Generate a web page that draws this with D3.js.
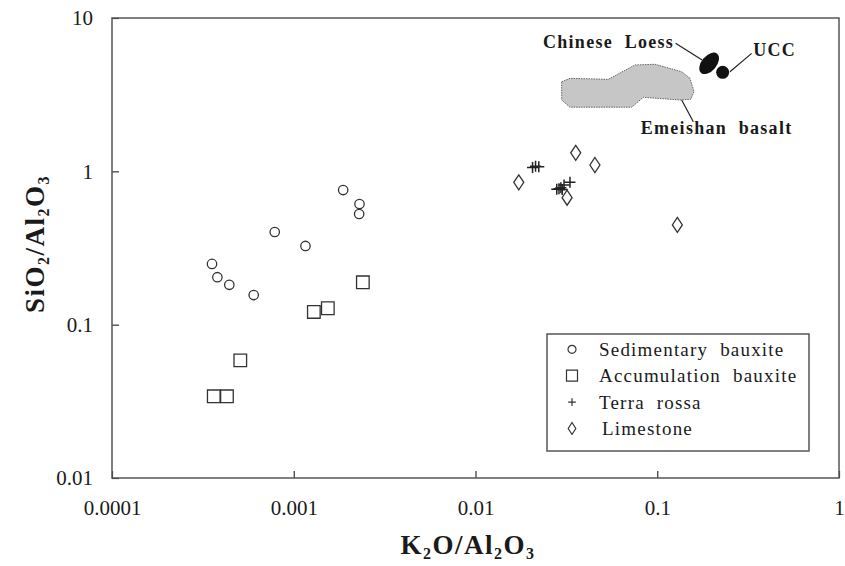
<!DOCTYPE html>
<html>
<head>
<meta charset="utf-8">
<script src="https://cdn.jsdelivr.net/npm/d3@7"></script>
<style>
  body { margin: 0; background: #fff; }
</style>
</head>
<body>
<script>
// values (x = K2O/Al2O3, y = SiO2/Al2O3)
var sedimentary = [
  [0.00187, 0.755], [0.00230, 0.612], [0.00229, 0.527], [0.000786, 0.402],
  [0.00116, 0.326], [0.000355, 0.249], [0.000380, 0.204], [0.000442, 0.182],
  [0.000602, 0.156]
];
var accumulation = [
  [0.00240, 0.189], [0.00154, 0.128], [0.00129, 0.121], [0.000508, 0.0585],
  [0.000363, 0.0341], [0.000429, 0.0341]
];
var terraRossa = [
  [0.0206, 1.06], [0.0214, 1.08], [0.0223, 1.07],
  [0.0280, 0.763], [0.0288, 0.770], [0.0295, 0.781], [0.0300, 0.760],
  [0.0307, 0.814], [0.0331, 0.848]
];
var limestone = [
  [0.0356, 1.32], [0.0454, 1.10], [0.0173, 0.848], [0.0319, 0.673], [0.129, 0.447]
];
// reference fields
var loess = [0.193, 5.06];
var ucc = [0.229, 4.42];
var basalt = [
  [0.0298, 3.84], [0.0331, 4.04], [0.0538, 3.98], [0.0754, 4.94], [0.0972, 4.99],
  [0.1363, 4.46], [0.1514, 4.04], [0.1593, 3.31], [0.1528, 2.95], [0.1334, 2.92],
  [0.0838, 3.04], [0.0723, 2.62], [0.0331, 2.62], [0.0298, 2.92]
];
var xTicks = [0.0001, 0.001, 0.01, 0.1, 1];
var xTickLabels = ["0.0001", "0.001", "0.01", "0.1", "1"];
var yTicks = [0.01, 0.1, 1, 10];
var yTickLabels = ["0.01", "0.1", "1", "10"];
var legendNames = ["Sedimentary  bauxite", "Accumulation  bauxite", "Terra  rossa", "Limestone"];

var W = 845, H = 566;
var frame = {left: 112, right: 839, top: 18, bottom: 478};
var FONT = "'Liberation Serif', monospace";

var svg = d3.select("body").append("svg")
  .attr("width", W).attr("height", H);

var xScale = d3.scaleLog().domain([0.0001, 1]).range([frame.left, frame.right]);
var yScale = d3.scaleLog().domain([0.01, 10]).range([frame.bottom, frame.top]);

var ink = "#333";

// axes (ticks pointing inside)
var xAxis = svg.append("g")
  .attr("transform", "translate(0," + frame.bottom + ")")
  .call(d3.axisBottom(xScale)
    .tickValues(xTicks)
    .tickFormat(function(d, i){ return xTickLabels[i]; })
    .tickSizeInner(-7).tickSizeOuter(0).tickPadding(22));
var yAxis = svg.append("g")
  .attr("transform", "translate(" + frame.left + ",0)")
  .call(d3.axisLeft(yScale)
    .tickValues(yTicks)
    .tickFormat(function(d, i){ return yTickLabels[i]; })
    .tickSizeInner(-7).tickSizeOuter(0).tickPadding(19));
[xAxis, yAxis].forEach(function(a){
  a.attr("font-family", null).attr("font-size", null);
  a.select(".domain").remove();
  a.selectAll("line").attr("stroke", ink).attr("stroke-width", 1.2);
  a.selectAll("text").style("font-family", FONT).style("font-size", "21px").attr("fill", "#1a1a1a");
});

svg.append("rect")
  .attr("x", frame.left).attr("y", frame.top)
  .attr("width", frame.right - frame.left).attr("height", frame.bottom - frame.top)
  .attr("fill", "none").attr("stroke", "#555").attr("stroke-width", 1.5);

// axis titles with subscripts
function titleText(sel, parts){
  parts.forEach(function(p, i){
    var t = sel.append("tspan").text(p[0]);
    if (p[1]) t.style("font-size", "16px").attr("dy", 5);
    else if (i > 0) t.attr("dy", -5);
  });
}
var xt = svg.append("text")
  .attr("x", 468).attr("y", 554)
  .attr("text-anchor", "middle")
  .style("font-family", FONT).style("font-size", "27px").style("font-weight", "bold")
  .attr("fill", "#1a1a1a").attr("letter-spacing", 1.5);
titleText(xt, [["K"], ["2", 1], ["O/Al"], ["2", 1], ["O"], ["3", 1]]);

var yt = svg.append("text")
  .attr("transform", "translate(44,244) rotate(-90)")
  .attr("text-anchor", "middle")
  .style("font-family", FONT).style("font-size", "27px").style("font-weight", "bold")
  .attr("fill", "#1a1a1a").attr("letter-spacing", 1.5);
titleText(yt, [["SiO"], ["2", 1], ["/Al"], ["2", 1], ["O"], ["3", 1]]);

// symbol paths
function sq(s){ return "M" + (-s) + "," + (-s) + "h" + 2*s + "v" + 2*s + "h" + (-2*s) + "Z"; }
function plus(s){ return "M" + (-s) + ",0h" + 2*s + "M0," + (-s) + "v" + 2*s; }
function diamond(w, h){ return "M0," + (-h) + "L" + w + ",0L0," + h + "L" + (-w) + ",0Z"; }

// reference fields
svg.append("path")
  .datum(basalt)
  .attr("d", d3.line().x(function(d){ return xScale(d[0]); }).y(function(d){ return yScale(d[1]); }).curve(d3.curveLinearClosed))
  .attr("fill", "#c6c6c6").attr("stroke", "#666").attr("stroke-width", 1)
  .attr("stroke-dasharray", "1.5,1");

var lx = xScale(loess[0]), ly = yScale(loess[1]);
svg.append("ellipse")
  .attr("transform", "translate(" + lx + "," + ly + ") rotate(-50)")
  .attr("rx", 12.5).attr("ry", 7.5).attr("fill", "#111");
var ux = xScale(ucc[0]), uy = yScale(ucc[1]);
svg.append("circle").attr("cx", ux).attr("cy", uy).attr("r", 6.5).attr("fill", "#111");

var bv = basalt[9];
var bx = xScale(bv[0]), by = yScale(bv[1]);
var leaders = [
  [lx - 33.6, ly - 20, lx - 7, ly - 3.3],
  [ux + 7.3, uy - 0.6, ux + 29, uy - 19],
  [bx + 1.7, by, bx + 13.3, by + 21.7]
];
svg.selectAll(".leader").data(leaders).enter().append("line")
  .attr("x1", function(d){ return d[0]; }).attr("y1", function(d){ return d[1]; })
  .attr("x2", function(d){ return d[2]; }).attr("y2", function(d){ return d[3]; })
  .attr("stroke", "#222").attr("stroke-width", 1.2);

var labels = [
  {t: "Chinese  Loess", x: lx - 35, y: ly - 15.5, a: "end"},
  {t: "UCC", x: ux + 30.5, y: uy - 16.8, a: "start"},
  {t: "Emeishan  basalt", x: bx - 39.3, y: by + 34.5, a: "start"}
];
svg.selectAll(".flabel").data(labels).enter().append("text")
  .attr("x", function(d){ return d.x; }).attr("y", function(d){ return d.y; })
  .attr("text-anchor", function(d){ return d.a; })
  .style("font-family", FONT).style("font-size", "18px").style("font-weight", "bold")
  .attr("fill", "#1a1a1a").attr("letter-spacing", 1.3)
  .style("white-space", "pre")
  .text(function(d){ return d.t; });

// data points
var g = svg.append("g").attr("fill", "none").attr("stroke", ink).attr("stroke-width", 1.3);
function tr(d){ return "translate(" + xScale(d[0]) + "," + yScale(d[1]) + ")"; }

g.selectAll(".sed").data(sedimentary).enter().append("circle")
  .attr("cx", function(d){ return xScale(d[0]); })
  .attr("cy", function(d){ return yScale(d[1]); })
  .attr("r", 4.7);
g.selectAll(".acc").data(accumulation).enter().append("path")
  .attr("transform", tr).attr("d", sq(6.3));
g.selectAll(".terra").data(terraRossa).enter().append("path")
  .attr("transform", tr).attr("d", plus(5.5)).attr("stroke", "#222").attr("stroke-width", 1.5);
g.selectAll(".lime").data(limestone).enter().append("path")
  .attr("transform", tr).attr("d", diamond(5, 7.5));

// legend
var leg = svg.append("g");
leg.append("rect")
  .attr("x", 547).attr("y", 334).attr("width", 262).attr("height", 117)
  .attr("fill", "#fff").attr("stroke", "#555").attr("stroke-width", 1.5);
var legendShapes = [
  function(s){ s.append("circle").attr("r", 4); },
  function(s){ s.append("path").attr("d", sq(5.5)); },
  function(s){ s.append("path").attr("d", plus(3.8)); },
  function(s){ s.append("path").attr("d", diamond(3.8, 6)); }
];
var rows = leg.selectAll(".row").data(legendNames).enter().append("g")
  .attr("transform", function(d, i){ return "translate(572," + (349.3 + i * 26.4) + ")"; });
rows.each(function(d, i){
  var s = d3.select(this).append("g").attr("fill", "none").attr("stroke", ink).attr("stroke-width", 1.2);
  legendShapes[i](s);
});
rows.append("text")
  .attr("x", function(d, i){ return i == 3 ? 30 : 27; }).attr("y", 6.5)
  .style("font-family", FONT).style("font-size", "19px")
  .attr("fill", "#1a1a1a").attr("letter-spacing", 1.2)
  .style("white-space", "pre")
  .text(function(d){ return d; });
</script>
</body>
</html>
